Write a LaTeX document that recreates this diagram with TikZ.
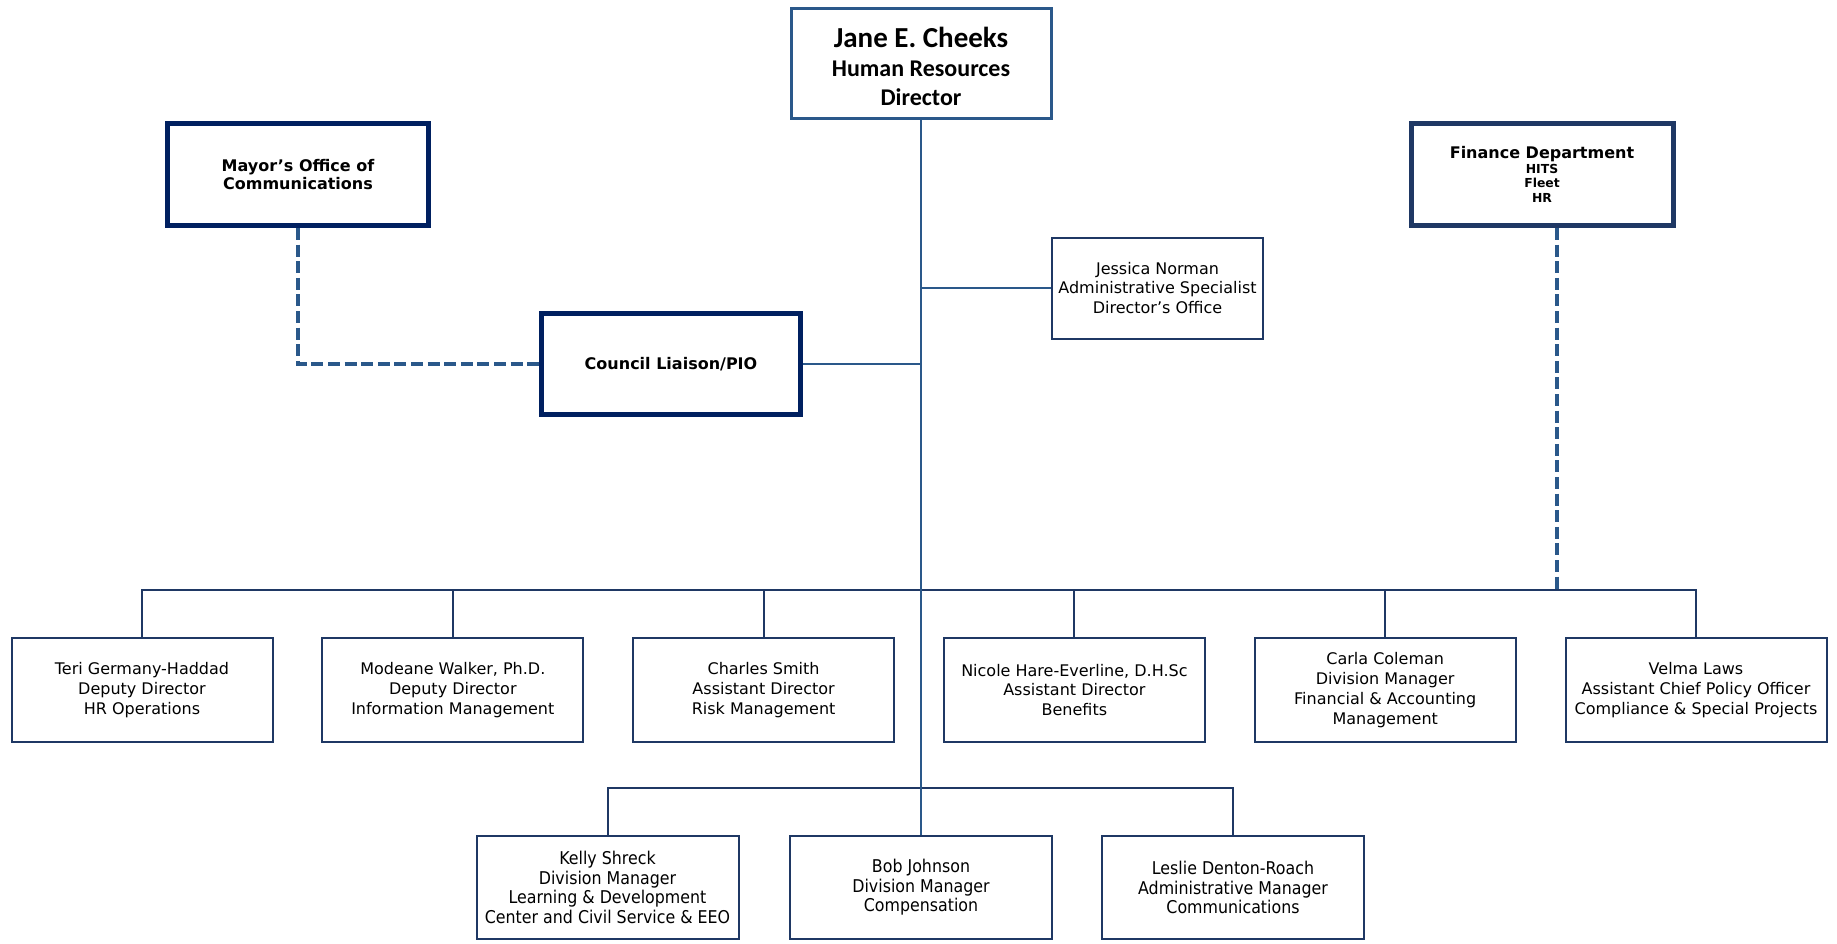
\documentclass[tikz,border=0pt]{standalone}
\usepackage{fontspec}
\setmainfont{DejaVu Sans}
\newfontfamily\calibfont{Carlito}
\newfontfamily\narrowfont[FakeStretch=0.9]{DejaVu Sans}
\usetikzlibrary{positioning,calc}
\definecolor{hrblue}{RGB}{42,88,138}
\definecolor{hrnavy}{RGB}{0,32,96}
\definecolor{hrslate}{RGB}{31,56,100}
\tikzset{
  hbox/.style={draw=hrblue, line width=1.5pt, fill=white, align=center, inner sep=0pt,
    minimum width=130pt, minimum height=55pt, font=\calibfont\bfseries\fontsize{12}{14.5}\selectfont},
  obox/.style={draw=hrnavy, line width=2.5pt, align=center, inner sep=0pt,
    minimum width=130.5pt, minimum height=51pt, font=\bfseries\fontsize{8}{9.4}\selectfont},
  sbox/.style={draw=hrslate, line width=1pt, align=center, inner sep=0pt,
    minimum width=130.5pt, minimum height=52pt, font=\fontsize{8}{9.9}\selectfont},
  lbox/.style={sbox, minimum width=131pt, minimum height=51.5pt, font=\narrowfont\fontsize{8.8}{9.7}\selectfont},
  lnk/.style={hrblue, line width=1pt},
  blnk/.style={hrslate, line width=1pt},
  dlnk/.style={hrblue, line width=2pt, dash pattern=on 6pt off 2.3pt},
}

\begin{document}
\begin{tikzpicture}[x=0.5pt,y=-0.5pt]
\useasboundingbox (0,0) rectangle (1837,943);
% top of the chart
\node[hbox] (boss) at (921,63.5)
  {\rule{0pt}{13pt}{\fontsize{14.5}{15}\selectfont Jane E. Cheeks}\\Human Resources\\Director};
\node[obox] (mayor) at (298,174.5) {Mayor’s Office of\\Communications};
\node[obox, draw=hrslate, minimum width=131pt] (fin) at (1542,174.5)
  {Finance Department\\[-2pt]{\fontsize{6.2}{8}\selectfont HITS}\\[-2pt]{\fontsize{6.2}{8}\selectfont Fleet}\\[-2pt]{\fontsize{6.2}{8}\selectfont HR}};
\node[obox, minimum width=129.5pt, minimum height=50.5pt] (pio) at (671,364) {Council Liaison/PIO};
\node[sbox, minimum width=105.5pt, minimum height=50.5pt] (jn) at (1157.5,288)
  {Jessica Norman\\Administrative Specialist\\Director’s Office};
% first row
\node[sbox] (tgh) at (142,690) {Teri Germany-Haddad\\Deputy Director\\HR Operations};
\node[sbox] (mw) at (452.8,690) {Modeane Walker, Ph.D.\\Deputy Director\\Information Management};
\node[sbox] (cs) at (763.6,690) {Charles Smith\\Assistant Director\\Risk Management};
\node[sbox] (nhe) at (1074.4,690) {Nicole Hare-Everline, D.H.Sc\\Assistant Director\\Benefits};
\node[sbox] (cc) at (1385.2,690) {Carla Coleman\\Division Manager\\Financial \& Accounting\\Management};
\node[sbox] (vl) at (1696,690) {Velma Laws\\Assistant Chief Policy Officer\\Compliance \& Special Projects};
% second row
\node[lbox] (ks) at (607.5,887.5) {Kelly Shreck\\Division Manager\\Learning \& Development\\Center and Civil Service \& EEO};
\node[lbox] (bj) at (921,887.5) {Bob Johnson\\Division Manager\\Compensation};
\node[lbox] (ldr) at (1233,887.5) {Leslie Denton-Roach\\Administrative Manager\\Communications};
\coordinate (busA) at (921,590);
\coordinate (busB) at (921,788);
% bus lines
\draw[blnk] (tgh.north) |- (busA) -| (vl.north);
\foreach \n in {mw,cs,nhe,cc}
  \draw[blnk] (\n.north) -- (\n.north |- busA);
\draw[blnk] (ks.north) |- (busB) -| (ldr.north);
% solid lines
\draw[lnk] (boss.south) -- (bj.north);
\draw[lnk] (jn.west) -- (jn.west -| boss.south);
\draw[lnk] (pio.east) -- (pio.east -| boss.south);
% dashed lines
\draw[dlnk] (mayor.south) |- (pio.west);
\draw[dlnk] ([xshift=7.5pt]fin.south) -- ([xshift=7.5pt]fin.south |- busA);
\end{tikzpicture}
\end{document}
